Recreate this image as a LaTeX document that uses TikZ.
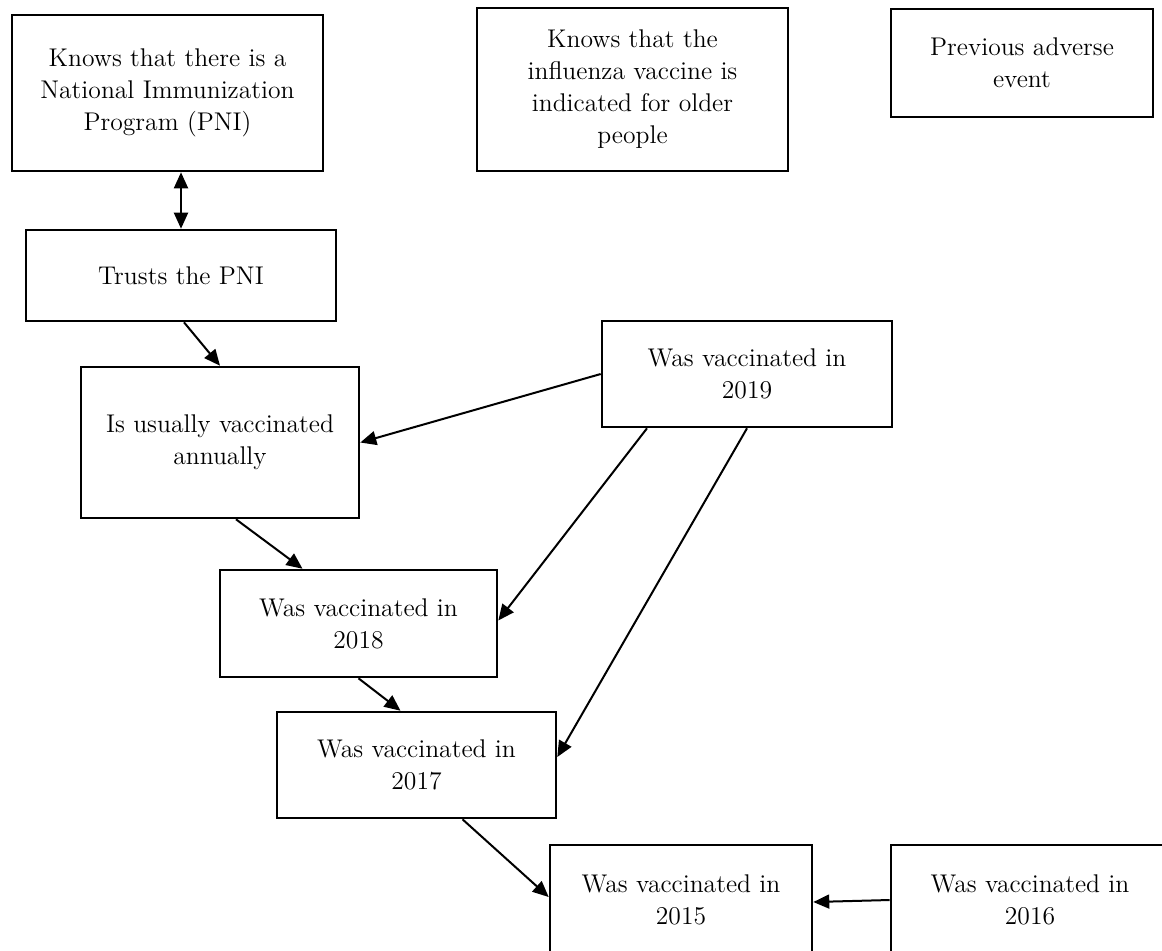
\documentclass[tikz,border=0pt]{standalone}
\usetikzlibrary{arrows.meta}
\begin{document}
\begin{tikzpicture}[x=0.5pt,y=-0.5pt,
  box/.style={draw=black, line width=1.3pt, align=center, inner sep=0pt,
    font=\fontsize{12.8}{16}\selectfont, text=black},
  conn/.style={line width=1pt, -{Triangle[length=8pt,width=7pt]}},
  conn2/.style={line width=1pt, {Triangle[length=8pt,width=7pt]}-{Triangle[length=8pt,width=7pt]}}]
\clip (0,0) rectangle (1162,950);
\fill[white] (0,0) rectangle (1162,950);
% boxes
\node[box, minimum width=155.5pt, minimum height=78pt] (know) at (167.5,93)
  {Knows that there is a\\National Immunization\\Program (PNI)};
\node[box, minimum width=155.5pt, minimum height=81.5pt] (infl) at (632.5,89.5)
  {Knows that the\\influenza vaccine is\\indicated for older\\people};
\node[box, minimum width=131pt, minimum height=54pt] (adv) at (1022,63)
  {Previous adverse\\event};
\node[box, minimum width=155pt, minimum height=45.5pt] (trust) at (181,275.5)
  {Trusts the PNI};
\node[box, minimum width=145pt, minimum height=53pt] (y19) at (747,374)
  {Was vaccinated in\\2019};
\node[box, minimum width=139pt, minimum height=75.5pt] (annual) at (220,442.5)
  {Is usually vaccinated\\annually};
\node[box, minimum width=138.5pt, minimum height=53.5pt] (y18) at (358.5,623.5)
  {Was vaccinated in\\2018};
\node[box, minimum width=139.5pt, minimum height=53pt] (y17) at (416.5,765)
  {Was vaccinated in\\2017};
\node[box, minimum width=131pt, minimum height=55pt] (y15) at (681,900)
  {Was vaccinated in\\2015};
\node[box, minimum width=139pt, minimum height=55pt] (y16) at (1030,900)
  {Was vaccinated in\\2016};
% connectors
\draw[conn2] (trust.north |- know.south) -- (trust.north);
\draw[conn] ([xshift=1.5pt]trust.south) -- (annual.north);
\draw[conn] (y19.west) -- (annual.east);
\draw[conn] ([xshift=-50pt]y19.south) -- ([yshift=1.5pt]y18.east);
\draw[conn] (y19.south) -- ([yshift=4pt]y17.east);
\draw[conn] ([xshift=8pt]annual.south) -- ([xshift=-28pt]y18.north);
\draw[conn] (y18.south) -- ([xshift=-8pt]y17.north);
\draw[conn] ([xshift=23pt]y17.south) -- ([yshift=1.5pt]y15.west);
\draw[conn] (y16.west) -- ([yshift=-1pt]y15.east);
\end{tikzpicture}
\end{document}
